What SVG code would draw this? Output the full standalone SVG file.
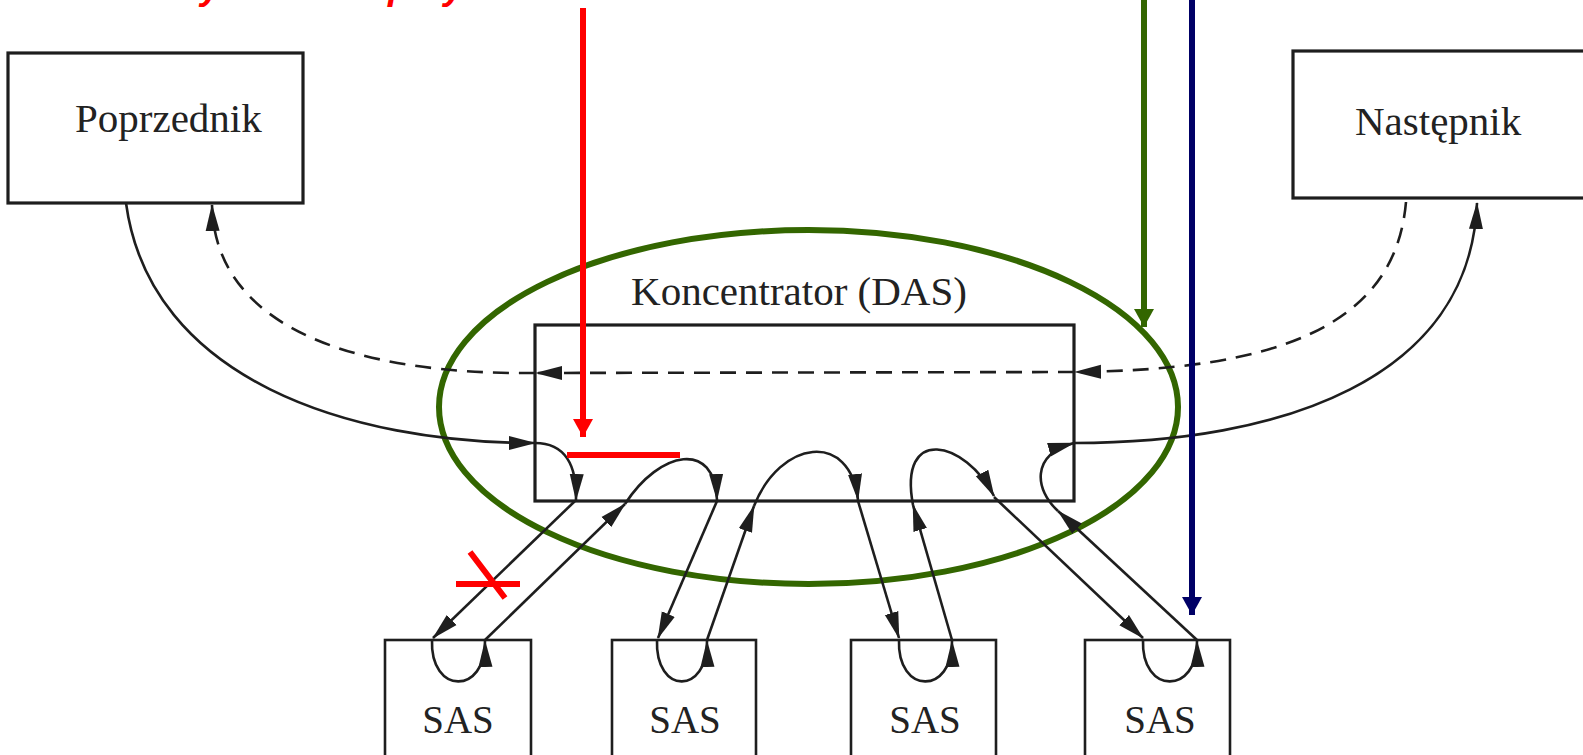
<svg xmlns="http://www.w3.org/2000/svg" width="1583" height="755" viewBox="0 0 1583 755">
<style>
.box{fill:#fff;stroke:#1e1e1e;stroke-width:3.2}
.sas{fill:#fff;stroke:#1e1e1e;stroke-width:2.6}
.lbl{font-family:"Liberation Serif","Times New Roman",serif;font-size:41px;fill:#222}
.sl{font-family:"Liberation Serif","Times New Roman",serif;font-size:39px;fill:#222;text-anchor:middle}
.c{fill:none;stroke:#1e1e1e;stroke-width:2.6;marker-end:url(#ah)}
.d{fill:none;stroke:#1e1e1e;stroke-width:2.6;stroke-dasharray:16 10;marker-end:url(#ah)}
</style>
<defs>
<marker id="ah" markerUnits="userSpaceOnUse" markerWidth="27" markerHeight="15" viewBox="0 0 27 15" refX="26" refY="7.5" orient="auto"><path d="M0,0.5 L27,7.5 L0,14.5 z" fill="#1e1e1e" stroke="none"/></marker>
<marker id="ar" markerUnits="userSpaceOnUse" markerWidth="18" markerHeight="20" viewBox="0 0 18 20" refX="18" refY="10" orient="auto"><path d="M0,0 L18,10 L0,20 z" fill="#ff0000"/></marker>
<marker id="ag" markerUnits="userSpaceOnUse" markerWidth="18" markerHeight="20" viewBox="0 0 18 20" refX="18" refY="10" orient="auto"><path d="M0,0 L18,10 L0,20 z" fill="#336600"/></marker>
<marker id="an" markerUnits="userSpaceOnUse" markerWidth="18" markerHeight="20" viewBox="0 0 18 20" refX="18" refY="10" orient="auto"><path d="M0,0 L18,10 L0,20 z" fill="#000066"/></marker>
</defs>
<rect width="1583" height="755" fill="#fff"/>

<text x="5" y="-1" font-family="Liberation Sans, Arial, sans-serif" font-size="37" font-weight="bold" font-style="italic" word-spacing="26" fill="#ff0000">Uszkodzony kabel przy SAS</text>

<g id="poprzednik"><rect class="box" x="8" y="53" width="295" height="150"/><text class="lbl" x="75" y="132">Poprzednik</text></g>
<g id="nastepnik"><rect class="box" x="1293" y="51" width="310" height="147"/><text class="lbl" x="1355" y="135">Następnik</text></g>
<g id="koncentrator"><rect class="box" x="535" y="325" width="539" height="176"/><text class="lbl" x="799" y="305" text-anchor="middle">Koncentrator (DAS)</text></g>
<g id="sas1"><rect class="sas" x="385" y="640" width="146" height="130"/><text class="sl" x="458" y="733">SAS</text></g>
<g id="sas2"><rect class="sas" x="612" y="640" width="144" height="130"/><text class="sl" x="685" y="733">SAS</text></g>
<g id="sas3"><rect class="sas" x="851" y="640" width="145" height="130"/><text class="sl" x="925" y="733">SAS</text></g>
<g id="sas4"><rect class="sas" x="1085" y="640" width="145" height="130"/><text class="sl" x="1160" y="733">SAS</text></g>

<ellipse id="ring" cx="808.5" cy="407" rx="369.5" ry="177" fill="none" stroke="#336600" stroke-width="6"/>

<g id="connectors">
<path class="c" d="M126,203 C150,380 350,443 535,443"/>
<path class="c" d="M535,443 C565,443 577,465 576,500"/>
<path class="c" d="M575,501 L433,638"/>
<path class="c" d="M432,640 C430,695 486,695 485,641"/>
<path class="c" d="M485,640 L625,504"/>
<path class="c" d="M625,504 C660,450 715,440 717,500"/>
<path class="c" d="M717,501 L658,638"/>
<path class="c" d="M657,640 C655,695 708,695 707,641"/>
<path class="c" d="M707,640 L754,506"/>
<path class="c" d="M754,506 C780,440 850,430 858,500"/>
<path class="c" d="M858,501 L899,638"/>
<path class="c" d="M899,640 C897,695 953,695 952,641"/>
<path class="c" d="M952,640 L913,505"/>
<path class="c" d="M913,505 C898,425 965,440 994,496"/>
<path class="c" d="M994,497 L1143,638"/>
<path class="c" d="M1143,640 C1141,695 1198,695 1197,641"/>
<path class="c" d="M1197,640 L1058,511"/>
<path class="c" d="M1058,511 C1035,490 1030,455 1074,443"/>
<path class="c" d="M1074,443 C1280,443 1470,380 1477,203"/>
<path class="d" d="M1406,202 C1395,330 1270,370 1075,372"/>
<path class="d" d="M1074,372 L536,373"/>
<path class="d" d="M535,373 C360,375 215,330 212,205"/>
<path d="M1144,0 L1144,327" stroke="#336600" stroke-width="6" marker-end="url(#ag)"/>
<path d="M1192,0 L1192,615" stroke="#000066" stroke-width="6" marker-end="url(#an)"/>
<path d="M583,8 L583,437" stroke="#ff0000" stroke-width="6" marker-end="url(#ar)"/>
<rect x="567" y="452" width="113" height="6" fill="#ff0000"/>
<path d="M456,584 L520,584 M470,552 L505,598" stroke="#ff0000" stroke-width="6"/>
</g>
</svg>
